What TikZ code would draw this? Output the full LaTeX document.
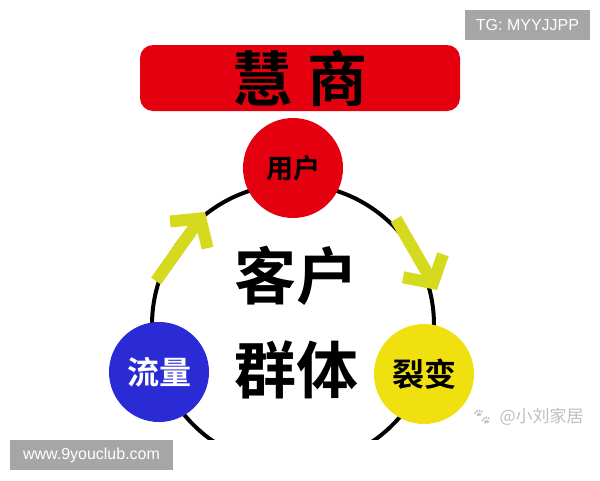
\documentclass[tikz,border=0pt]{standalone}
\usepackage{fontspec}
\usetikzlibrary{arrows.meta}
\newfontfamily\cjk{Noto Sans CJK SC}[BoldFont={Noto Sans CJK SC Bold}]
\newfontfamily\wmfont{Liberation Sans}
\newfontfamily\emojifont{Noto Emoji}
\definecolor{hsred}{HTML}{E5000F}
\definecolor{hsblue}{HTML}{2B2BD6}
\definecolor{hsyellow}{HTML}{F0E010}
\definecolor{hsarrow}{HTML}{D6DA1E}
\definecolor{wmgray}{HTML}{A6A6A6}
\tikzset{
	bubble/.style={circle,minimum size=100pt,inner sep=0pt},
	bigchar/.style={font=\cjk\bfseries\fontsize{62}{62}\selectfont},
	yarrow/.style={line width=12pt,hsarrow,-{Straight Barb[length=20pt,width=46pt]}},
	wmbox/.style={fill=wmgray,text=white,font=\wmfont\fontsize{16}{16}\selectfont,inner sep=0pt,minimum height=30pt}
}
\begin{document}
\begin{tikzpicture}[x=1pt,y=-1pt]
	\useasboundingbox[fill=white] (0,0) rectangle (600,480);

	% ring, cut off at the bottom
	\coordinate (ctr) at (293,325);
	\begin{scope}
		\clip (0,0) rectangle (600,439);
		\draw[line width=4pt] (ctr) circle (141pt);
	\end{scope}

	\node[fill=hsred,rounded corners=13pt,minimum width=320pt,minimum height=66pt,inner sep=0pt,
		font=\cjk\bfseries\fontsize{60}{60}\selectfont] (title) at (300,78) {慧\hspace{15pt}商\hspace{28pt}};

	\node[bubble,fill=hsred,font=\cjk\bfseries\fontsize{27}{27}\selectfont] (yonghu) at (293,168) {用户};
	\node[bubble,fill=hsblue,text=white,font=\cjk\bfseries\fontsize{32}{32}\selectfont] (liuliang) at (159,372) {流量};
	\node[bubble,fill=hsyellow,font=\cjk\bfseries\fontsize{32}{32}\selectfont] (liebian) at (424,374) {裂变};

	\node[bigchar] (kehu) at (296,276) {客户};
	\node[bigchar] (qunti) at (296,370) {群体};

	% arrows along the ring
	\coordinate (ltail) at (156,281);
	\coordinate (ltip) at (205,212);
	\coordinate (rtail) at (396,219);
	\coordinate (rtip) at (437,290);
	\draw[yarrow] (ltail) -- (ltip);
	\draw[yarrow] (rtail) -- (rtip);

	% watermarks
	\node[wmbox,minimum width=125pt] (tg) at (527.5,25) {TG: MYYJJPP};
	\node[wmbox,minimum width=163pt] (site) at (91.5,455) {www.9youclub.com};
	\node[text=black!25,font=\emojifont\fontsize{16}{16}\selectfont] (paw) at (482,417) {🐾};
	\node[text=black!25,font=\cjk\fontsize{17}{17}\selectfont,anchor=west] (author) at (496,417) {@小刘家居};
\end{tikzpicture}
\end{document}
